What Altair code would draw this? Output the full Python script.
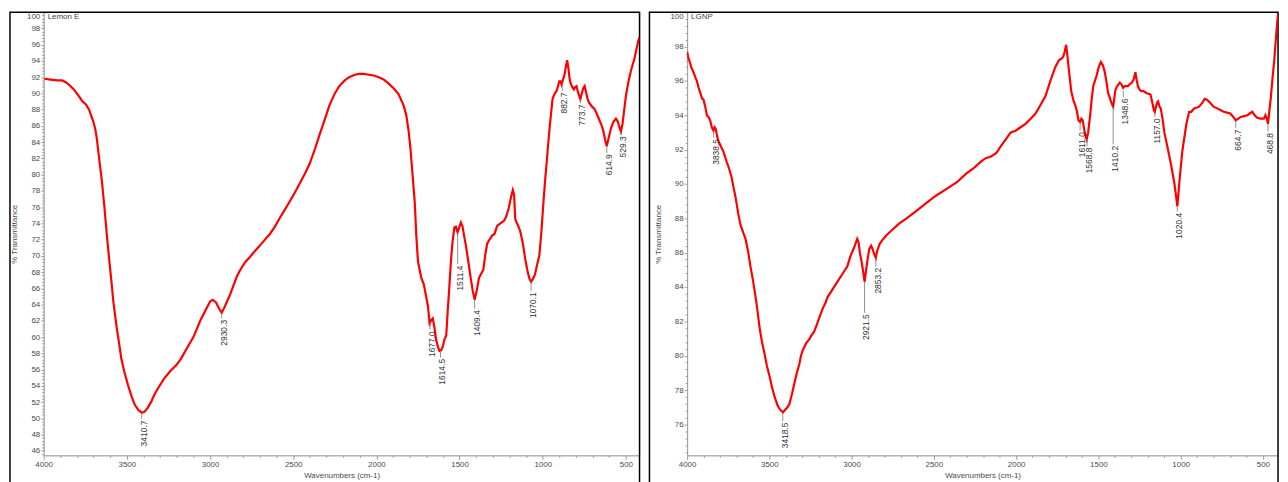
import altair as alt
import pandas as pd

# ---------------- Lemon E spectrum (wavenumber, %T) ----------------
lemon_wn = [3996, 3960, 3920, 3889, 3870, 3849, 3819, 3790, 3770, 3745, 3727, 3710, 3701, 3690,
            3681, 3665, 3650, 3635, 3620, 3605, 3590, 3582, 3562, 3545, 3533, 3515, 3493, 3473,
            3453, 3430, 3410, 3394, 3375, 3355, 3335, 3310, 3276, 3240, 3205, 3176, 3140, 3100,
            3057, 3030, 3000, 2985, 2965, 2945, 2930, 2915, 2900, 2880, 2860, 2840, 2818, 2790,
            2759, 2730, 2699, 2670, 2640, 2610, 2580, 2550, 2521, 2490, 2461, 2430, 2402, 2370,
            2342, 2310, 2283, 2250, 2223, 2190, 2164, 2130, 2104, 2075, 2045, 2015, 1985, 1955,
            1926, 1895, 1866, 1836, 1820, 1807, 1795, 1783, 1769, 1760, 1750, 1730, 1715, 1700,
            1690, 1680, 1670, 1661, 1651, 1641, 1630, 1621, 1610, 1600, 1591, 1580, 1571, 1562,
            1552, 1542, 1531, 1522, 1512, 1502, 1492, 1482, 1472, 1462, 1448, 1433, 1420, 1409,
            1396, 1383, 1370, 1357, 1345, 1334, 1320, 1304, 1290, 1274, 1255, 1234, 1220, 1204,
            1191, 1180, 1172, 1165, 1150, 1136, 1120, 1106, 1090, 1080, 1070, 1058, 1047, 1035,
            1020, 1008, 996, 985, 977, 967, 957, 948, 941, 930, 917, 908, 901, 894, 887, 880, 873,
            867, 860, 853, 845, 839, 833, 823, 813, 805, 797, 786, 774, 765, 757, 748, 738, 730,
            722, 705, 689, 675, 659, 645, 635, 625, 615, 605, 590, 575, 560, 550, 540, 530, 520,
            510, 500, 485, 471, 460, 451, 438, 425, 418]
lemon_t = [91.8, 91.7, 91.6, 91.6, 91.4, 91.1, 90.5, 89.7, 89.1, 88.6, 88.0, 87.0, 86.5, 85.6,
           84.5, 81.7, 79.2, 76.0, 72.5, 69.3, 66.3, 64.5, 61.3, 59.0, 57.3, 55.7, 54.1, 52.8,
           51.7, 51.0, 50.7, 50.8, 51.3, 52.0, 52.9, 53.8, 54.9, 55.8, 56.5, 57.3, 58.6, 60.0,
           62.1, 63.2, 64.4, 64.6, 64.3, 63.5, 63.0, 63.6, 64.3, 65.2, 66.3, 67.4, 68.3, 69.2,
           69.9, 70.6, 71.3, 72.0, 72.7, 73.6, 74.7, 75.7, 76.7, 77.8, 78.9, 80.1, 81.3, 83.1,
           84.9, 86.8, 88.5, 90.0, 90.9, 91.6, 92.0, 92.3, 92.4, 92.4, 92.3, 92.2, 92.0, 91.7,
           91.2, 90.6, 89.9, 88.5, 87.3, 85.5, 83.2, 80.1, 76.5, 72.5, 69.3, 67.3, 66.5, 64.9,
           63.8, 61.7, 62.1, 62.3, 61.2, 59.7, 58.8, 58.3, 58.4, 58.9, 59.7, 60.2, 63.3, 66.0,
           69.3, 71.8, 73.5, 73.6, 72.9, 73.5, 74.1, 73.6, 72.4, 71.3, 69.4, 67.3, 65.6, 64.6,
           65.8, 67.3, 67.8, 68.3, 70.2, 71.5, 72.0, 72.5, 72.7, 73.7, 74.0, 74.3, 74.8, 75.9,
           77.2, 78.1, 77.5, 74.5, 73.8, 73.1, 71.6, 69.7, 68.0, 67.2, 66.8, 67.2, 67.7, 68.8,
           70.1, 73.0, 76.5, 79.5, 81.3, 83.8, 86.1, 87.9, 89.3, 89.9, 90.3, 90.9, 91.5, 91.5,
           91.1, 91.6, 92.0, 92.5, 93.4, 94.1, 93.0, 91.9, 91.3, 90.8, 90.5, 90.8, 90.9, 90.0,
           89.3, 90.0, 90.6, 90.9, 90.0, 89.3, 88.9, 88.4, 88.1, 87.5, 86.7, 86.0, 85.3, 84.3,
           83.5, 84.4, 85.7, 86.5, 86.9, 86.6, 85.9, 85.3, 86.3, 88.0, 89.7, 91.4, 92.7, 93.5,
           94.1, 95.3, 96.5, 96.9]
lemon_peak_wn = [3410.7, 2930.3, 1677.0, 1614.5, 1511.4, 1409.4, 1070.1, 882.7, 773.7, 614.9, 529.3]
lemon_peak_t = [50.7, 63.0, 61.7, 58.3, 72.9, 64.6, 66.8, 91.1, 89.3, 83.5, 85.3]
lemon_label_t = [49.9, 62.3, 60.9, 57.5, 69.0, 63.5, 65.7, 90.3, 88.8, 82.7, 84.9]

# ---------------- LGNP spectrum (wavenumber, %T) ----------------
lgnp_wn = [4000, 3992, 3987, 3975, 3961, 3950, 3941, 3930, 3920, 3910, 3900, 3890, 3880, 3870,
           3860, 3850, 3840, 3833, 3826, 3818, 3810, 3795, 3780, 3770, 3760, 3745, 3730, 3720,
           3705, 3690, 3675, 3660, 3645, 3630, 3615, 3600, 3590, 3579, 3559, 3545, 3529, 3515,
           3499, 3485, 3468, 3450, 3438, 3418, 3400, 3390, 3378, 3362, 3348, 3333, 3318, 3308,
           3298, 3278, 3258, 3243, 3228, 3212, 3197, 3178, 3158, 3147, 3120, 3087, 3060, 3026,
           3007, 2985, 2966, 2958, 2950, 2940, 2930, 2921, 2912, 2903, 2893, 2882, 2872, 2862,
           2853, 2845, 2830, 2816, 2790, 2756, 2710, 2666, 2610, 2545, 2490, 2425, 2360, 2304,
           2260, 2214, 2185, 2153, 2120, 2093, 2063, 2033, 2003, 1973, 1943, 1912, 1882, 1852,
           1822, 1792, 1762, 1740, 1725, 1714, 1705, 1696, 1690, 1680, 1665, 1650, 1641, 1630,
           1621, 1611, 1603, 1595, 1585, 1578, 1571, 1562, 1550, 1540, 1531, 1521, 1511, 1498,
           1485, 1472, 1461, 1450, 1441, 1430, 1420, 1410, 1403, 1396, 1385, 1370, 1360, 1350,
           1340, 1320, 1310, 1296, 1285, 1275, 1268, 1260, 1250, 1240, 1225, 1209, 1195, 1183,
           1176, 1169, 1163, 1157, 1150, 1142, 1137, 1128, 1121, 1110, 1099, 1081, 1058, 1039,
           1028, 1020, 1012, 1005, 998, 990, 979, 965, 948, 935, 918, 900, 888, 870, 854, 840,
           818, 800, 778, 758, 738, 718, 698, 680, 665, 650, 634, 614, 594, 580, 564, 550, 534,
           515, 494, 484, 476, 469, 460, 452, 442, 430, 420, 408]
lgnp_t = [97.7, 97.3, 97.2, 96.8, 96.5, 96.2, 96.0, 95.6, 95.3, 95.0, 94.9, 94.5, 94.0, 93.9,
          93.7, 93.3, 93.1, 93.3, 93.2, 92.8, 92.5, 92.2, 91.9, 91.6, 91.3, 90.9, 90.4, 89.9,
          89.2, 88.3, 87.6, 87.2, 86.8, 86.1, 85.2, 84.4, 83.8, 83.1, 81.6, 80.8, 80.1, 79.4,
          78.8, 78.2, 77.6, 77.1, 76.9, 76.7, 76.9, 77.0, 77.2, 77.8, 78.4, 79.0, 79.5, 80.0,
          80.3, 80.7, 80.95, 81.2, 81.4, 81.8, 82.2, 82.7, 83.1, 83.4, 83.8, 84.3, 84.7, 85.2,
          85.8, 86.3, 86.8, 86.6, 86.0, 85.5, 84.9, 84.3, 85.0, 85.6, 86.2, 86.4, 86.2, 85.9,
          85.7, 86.1, 86.5, 86.7, 87.0, 87.3, 87.7, 88.0, 88.4, 88.9, 89.3, 89.7, 90.1, 90.6,
          90.9, 91.3, 91.5, 91.6, 91.8, 92.2, 92.6, 93.0, 93.1, 93.3, 93.5, 93.8, 94.1, 94.6,
          95.1, 96.0, 96.8, 97.2, 97.3, 97.4, 97.7, 98.1, 97.6, 96.7, 95.4, 94.8, 94.6, 94.2,
          93.7, 93.6, 93.8, 93.7, 93.1, 92.8, 92.6, 93.0, 94.0, 95.0, 95.7, 96.0, 96.3, 96.8,
          97.1, 96.9, 96.5, 95.9, 95.3, 95.0, 94.7, 94.5, 95.0, 95.5, 95.7, 95.9, 95.8, 95.6,
          95.7, 95.7, 95.8, 95.9, 96.1, 96.5, 96.1, 95.7, 95.5, 95.4, 95.4, 95.3, 95.25, 95.2,
          94.9, 94.6, 94.3, 94.2, 94.5, 94.75, 94.8, 94.5, 94.4, 93.8, 93.0, 92.2, 91.1, 90.1,
          89.3, 88.7, 89.6, 90.4, 91.1, 91.9, 92.6, 93.5, 94.2, 94.2, 94.4, 94.45, 94.5, 94.7,
          94.95, 94.9, 94.7, 94.5, 94.4, 94.3, 94.2, 94.15, 94.1, 93.9, 93.7, 93.8, 93.9, 93.95,
          94.0, 94.1, 94.2, 94.0, 93.85, 93.8, 93.8, 94.0, 93.8, 93.5, 94.3, 95.0, 96.1, 97.3,
          98.6, 99.9]
lgnp_peak_wn = [3838.5, 3418.5, 2921.5, 2853.2, 1611.0, 1568.8, 1410.2, 1348.6, 1157.0, 1020.4, 664.7, 468.8]
lgnp_peak_t = [93.1, 76.7, 84.3, 85.7, 93.6, 92.6, 94.5, 95.45, 94.2, 88.7, 93.7, 93.5]
lgnp_label_t = [92.7, 76.2, 82.5, 85.2, 93.1, 92.2, 92.3, 95.05, 93.9, 88.4, 93.25, 93.05]

NARROW = "Liberation Sans Narrow, Liberation Sans, Arial, sans-serif"
REG = "Liberation Sans, Arial, sans-serif"
H = 447
AX_GREY = "#9a9a9a"
LAB_GREY = "#4a4a4a"


def panel(name, wn, t, pk_wn, pk_t, lab_t, xdom, ydom, ymin_tick, width, box_left):
    curve = pd.DataFrame({"wn": wn, "t": t})
    peaks = pd.DataFrame({"wn": pk_wn, "t": pk_t, "lt": lab_t,
                          "label": [f"{v:.1f}" for v in pk_wn]})
    xs = alt.Scale(domain=xdom, nice=False, zero=False)
    ys = alt.Scale(domain=ydom, nice=False, zero=False)
    x_major = list(range(4000, 499, -500))
    x_minor = [v for v in range(4000, 499, -100) if v % 500 != 0]
    n = int(round((100 - ymin_tick) / 0.4))
    y_all = [round(ymin_tick + 0.4 * i, 1) for i in range(n + 1)]
    y_major = [v for v in y_all if abs(v - 2 * round(v / 2)) < 1e-6]
    y_minor = [v for v in y_all if v not in y_major]

    x_axis = alt.Axis(values=x_major, tickCount=1000, format="d", orient="bottom",
                      tickSize=4, labelPadding=1, labelFlush=False, labelOverlap=False,
                      labelFont=NARROW, labelFontSize=8,
                      labelColor=LAB_GREY, domainColor=AX_GREY, tickColor=AX_GREY,
                      title="Wavenumbers (cm-1)", titleFont=REG, titleFontSize=8,
                      titleFontWeight="normal", titleColor=LAB_GREY, titlePadding=3, grid=False)
    y_axis = alt.Axis(values=y_major, tickCount=1000, format="d", orient="left",
                      tickSize=3, labelOverlap=False, labelPadding=1, labelFlush=False,
                      labelBaseline={"condition": {"test": "datum.value >= 100", "value": "top"},
                                     "value": "middle"},
                      labelFont=NARROW, labelFontSize=8, labelColor=LAB_GREY,
                      domainColor=AX_GREY, tickColor=AX_GREY,
                      title="% Transmittance", titleFont=REG, titleFontSize=8,
                      titleFontWeight="normal", titleColor=LAB_GREY, titlePadding=8, grid=False)
    x_axis_minor = alt.Axis(values=x_minor, tickCount=1000, orient="bottom", labels=False,
                            domain=False, tickSize=2, tickColor=AX_GREY, title=None, grid=False)
    y_axis_minor = alt.Axis(values=y_minor, tickCount=1000, orient="left", labels=False,
                            domain=False, tickSize=2, tickColor=AX_GREY, title=None, grid=False)

    box = alt.Chart(pd.DataFrame({"k": [0]})).mark_rect(
        fillOpacity=0, stroke="black", strokeWidth=1.5).encode(
        x=alt.value(-box_left), x2=alt.value(width), y=alt.value(0), y2=alt.value(H + 60))
    line = alt.Chart(curve).mark_line(color="#ff0000", strokeWidth=2.2, clip=True).encode(
        x=alt.X("wn:Q", scale=xs, axis=x_axis),
        y=alt.Y("t:Q", scale=ys, axis=y_axis),
        order=alt.Order("wn:Q", sort="descending"))
    rules = alt.Chart(peaks).mark_rule(color="#777777", strokeWidth=0.8).encode(
        x=alt.X("wn:Q", scale=xs, axis=x_axis_minor),
        y=alt.Y("t:Q", scale=ys, axis=y_axis_minor), y2="lt:Q")
    texts = alt.Chart(peaks).mark_text(angle=270, align="right", baseline="middle",
                                       dx=-1.5, dy=2, font=REG, fontSize=8.5, color="#333333").encode(
        x=alt.X("wn:Q", scale=xs, axis=None), y=alt.Y("lt:Q", scale=ys, axis=None),
        text="label:N")
    title = alt.Chart(pd.DataFrame({"name": [name]})).mark_text(
        align="left", baseline="middle", font=REG, fontSize=8, color="#444444").encode(
        x=alt.value(4), y=alt.value(5), text="name:N")
    return alt.layer(box, line, rules, texts, title).resolve_axis(
        x="independent", y="independent").properties(width=width, height=H)


left = panel("Lemon E", lemon_wn, lemon_t, lemon_peak_wn, lemon_peak_t, lemon_label_t,
             [4000, 418], [45.45, 100], 45.6, 601, 34)
right = panel("LGNP", lgnp_wn, lgnp_t, lgnp_peak_wn, lgnp_peak_t, lgnp_label_t,
              [4000, 408], [74.2, 100], 74.4, 596, 38)

chart = alt.hconcat(left, right, spacing=6).properties(padding=0).configure_view(
    stroke=None).configure(background="white", padding=0)

chart.save("out.html", embed_options={"renderer": "svg", "actions": False})
